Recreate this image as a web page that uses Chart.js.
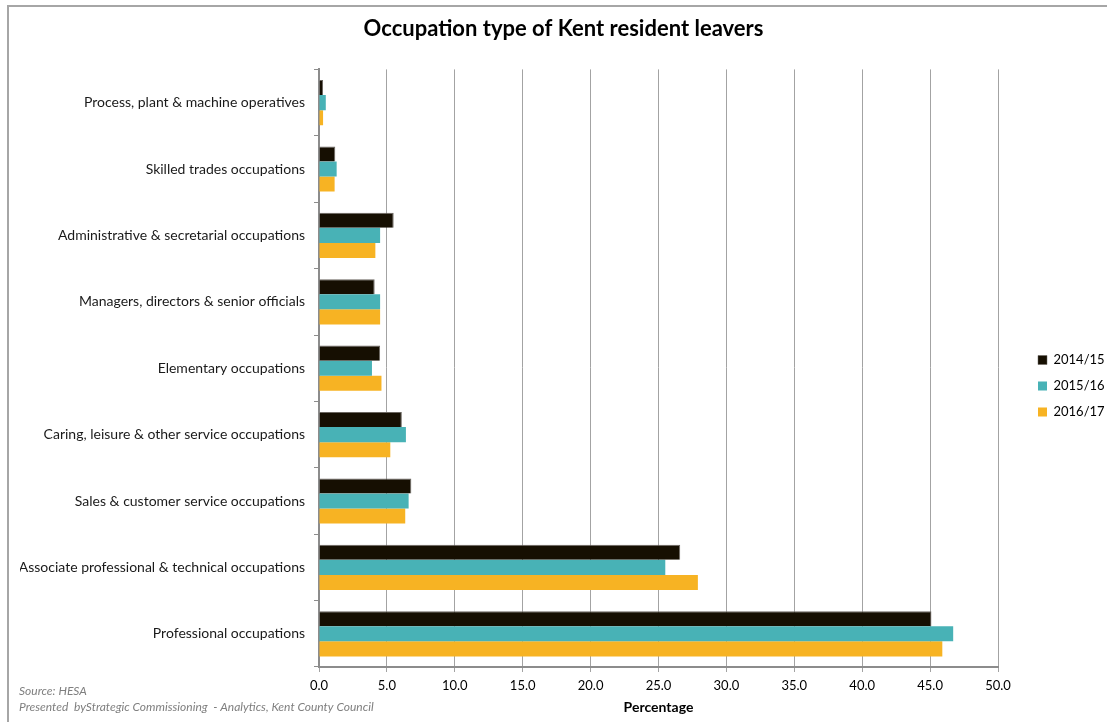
<!DOCTYPE html>
<html>
<head>
<meta charset="utf-8">
<script src="https://cdn.jsdelivr.net/npm/chart.js@4/dist/chart.umd.min.js"></script>
<style>
  html, body { margin: 0; padding: 0; background: #ffffff; }
  #wrap { width: 1107px; height: 722px; position: relative; }
</style>
</head>
<body>
<div id="wrap"><canvas id="chart" width="1107" height="722"></canvas></div>
<script>
// Occupation categories, listed top to bottom
const categories = [
  'Process, plant & machine operatives',
  'Skilled trades occupations',
  'Administrative & secretarial occupations',
  'Managers, directors & senior officials',
  'Elementary occupations',
  'Caring, leisure & other service occupations',
  'Sales & customer service occupations',
  'Associate professional & technical occupations',
  'Professional occupations'
];

// Percentage of leavers in each occupation type, per academic year
const years = ['2014/15', '2015/16', '2016/17'];
const values2014 = [0.3, 1.2, 5.5, 4.1, 4.5, 6.1, 6.8, 26.6, 45.1];
const values2015 = [0.5, 1.3, 4.5, 4.5, 3.9, 6.4, 6.6, 25.5, 46.7];
const values2016 = [0.3, 1.15, 4.15, 4.5, 4.6, 5.25, 6.35, 27.9, 45.9];

// Percentage axis
const axisMin = 0;
const axisMax = 50;
const axisStep = 5;

const FONT = 'Lato, "Open Sans", sans-serif';

// Outer frame plus the source notes in the bottom-left corner
const framePlugin = {
  id: 'frameAndNotes',
  afterDraw(chart) {
    const ctx = chart.ctx;
    ctx.save();
    ctx.strokeStyle = '#a6a6a6';
    ctx.lineWidth = 2;
    ctx.beginPath();
    ctx.moveTo(8, 722);
    ctx.lineTo(8, 6);
    ctx.lineTo(1107, 6);
    ctx.stroke();
    ctx.fillStyle = '#7f7f7f';
    ctx.font = 'italic 12px ' + FONT;
    ctx.textBaseline = 'middle';
    ctx.textAlign = 'left';
    ctx.fillText('Source: HESA', 19, 691);
    ctx.fillText('Presented  byStrategic Commissioning  - Analytics, Kent County Council', 19, 707);
    ctx.restore();
  }
};

// Legend sits in a fixed slot on the right, away from the plot edge
const legendSlot = {
  id: 'legendSlot',
  beforeLayout(chart) {
    const lg = chart.legend;
    if (lg && !lg._slotted) {
      const origFit = lg.fit.bind(lg);
      lg.fit = function () { origFit(); this.width = 109; };
      lg._slotted = true;
    }
  },
  afterLayout(chart) {
    const lg = chart.legend;
    if (!lg) return;
    const pad = lg.options.labels.padding;
    lg.left = 1038 - pad;
    lg.right = lg.left + 109;
    lg.top = 353.5 - pad;
  }
};

new Chart(document.getElementById('chart'), {
  type: 'bar',
  data: {
    labels: categories,
    datasets: [
      { label: years[0], data: values2014, backgroundColor: '#160f02', borderColor: '#6b6660', borderWidth: { top: 1, right: 1, bottom: 0, left: 0 } },
      { label: years[1], data: values2015, backgroundColor: '#48b2b6' },
      { label: years[2], data: values2016, backgroundColor: '#f7b323' }
    ]
  },
  options: {
    indexAxis: 'y',
    responsive: false,
    animation: false,
    maintainAspectRatio: false,
    layout: { padding: { left: 20, right: 0, top: 0, bottom: 0 } },
    datasets: { bar: { barPercentage: 1.0, categoryPercentage: 0.68 } },
    plugins: {
      title: {
        display: true,
        text: 'Occupation type of Kent resident leavers',
        color: '#000000',
        font: { family: FONT, size: 22, weight: 'bold' },
        padding: { top: 16, bottom: 27 }
      },
      legend: {
        position: 'right',
        align: 'start',
        labels: {
          boxWidth: 9,
          boxHeight: 9,
          padding: 13,
          color: '#000000',
          font: { family: FONT, size: 13 }
        }
      },
      tooltip: { enabled: false }
    },
    scales: {
      x: {
        type: 'linear',
        min: axisMin,
        max: axisMax,
        afterFit(s) { s.height = 55; },
        ticks: {
          stepSize: axisStep,
          padding: 6,
          color: '#000000',
          font: { family: FONT, size: 13 },
          callback: (v) => Number(v).toFixed(1)
        },
        grid: { color: '#a3a3a3', lineWidth: 1, tickLength: 5, drawTicks: true },
        border: { color: '#8c8c8c', width: 2 },
        title: {
          display: true,
          text: 'Percentage',
          color: '#000000',
          font: { family: FONT, size: 14, weight: 'bold' },
          padding: { top: 0, bottom: 6 }
        }
      },
      y: {
        afterFit(s) { s.width = 299; },
        ticks: {
          padding: 9,
          color: '#1a1a1a',
          font: { family: FONT, size: 14 },
          autoSkip: false
        },
        grid: { drawOnChartArea: false, drawTicks: true, tickLength: 5, color: '#8c8c8c', offset: true },
        border: { color: '#8c8c8c', width: 2 }
      }
    }
  },
  plugins: [legendSlot, framePlugin]
});
</script>
</body>
</html>
